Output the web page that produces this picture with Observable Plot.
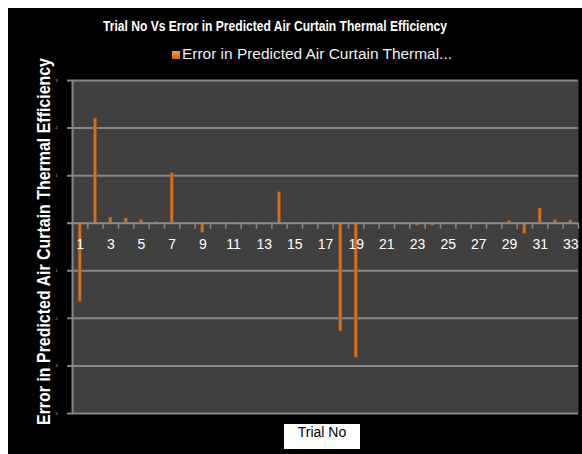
<!DOCTYPE html>
<html>
<head>
<meta charset="utf-8">
<script src="https://cdn.jsdelivr.net/npm/d3@7"></script>
<script src="https://cdn.jsdelivr.net/npm/@observablehq/plot@0.6"></script>
<style>
  html, body { margin: 0; padding: 0; background: #fff; }
  #page { position: relative; width: 582px; height: 454px; overflow: hidden; background: #fff; }
  #panel { position: absolute; left: 8px; top: 8px; width: 574px; height: 446px; background: #000; }
  .fit { position: absolute; white-space: nowrap; transform-origin: 0 0; }
  #title { left: 95px; top: 10px; color: #fff; font: bold 14.5px "Liberation Sans", sans-serif; }
  #legend { left: 164px; top: 38px; color: #f2f2f2; font: 14px "Liberation Sans", sans-serif; }
  #legend .sw { display: inline-block; width: 8px; height: 8px; margin-right: 2px; vertical-align: 0px;
                background: linear-gradient(#f3a347, #c8641a); }
  #ytitle { left: 26px; top: 417px; color: #fff; font: bold 18px "Liberation Sans", sans-serif; }
  #xtitle { position: absolute; left: 276px; top: 416px; width: 76px; height: 25px; background: #fff; color: #000;
            text-align: center; line-height: 26px; font: 14px "Liberation Sans", sans-serif; }
  #chart { position: absolute; left: 0; top: 58px; }
</style>
</head>
<body>
<div id="page">
  <div id="panel">
    <div id="title" class="fit">Trial No Vs Error in Predicted Air Curtain Thermal Efficiency</div>
    <div id="legend" class="fit"><span class="sw"></span><span id="legtext">Error in Predicted Air Curtain Thermal...</span></div>
    <div id="chart"></div>
    <div id="ytitle" class="fit">Error in Predicted Air Curtain Thermal Efficiency</div>
    <div id="xtitle">Trial No</div>
  </div>
</div>
<script>
const trials = d3.range(1, 34);
const errors = [-1.65, 2.2, 0.12, 0.1, 0.07, 0.02, 1.05, 0.01, -0.2, 0.0,
                -0.03, -0.03, -0.03, 0.65, 0.0, -0.03, -0.03, -2.27, -2.83, 0.0,
                0.0, -0.03, -0.05, -0.05, -0.02, -0.02, -0.02, -0.03, 0.05, -0.23,
                0.31, 0.07, 0.06];
const yTicks = [-4, -3, -2, -1, 0, 1, 2, 3];
const xLabels = trials.filter(t => t % 2 === 1);

const data = trials.map((t, i) => ({trial: t, error: errors[i]}));
const bounds = d3.range(1, 34).map(t => t + 0.5);

const chart = Plot.plot({
  width: 574,
  height: 388,
  marginLeft: 64,
  marginRight: 4,
  marginTop: 14,
  marginBottom: 41,
  style: {background: "#000", color: "#fff", fontFamily: "Liberation Sans, sans-serif"},
  x: {type: "linear", domain: [0.5, 33.5], axis: null},
  y: {domain: [-4, 3], axis: null},
  marks: [
    Plot.frame({fill: "#404040", stroke: null}),
    Plot.ruleY(yTicks.filter(d => d !== 0), {stroke: "#868686", strokeWidth: 2, insetLeft: -5}),
    Plot.ruleX([0.5], {stroke: "#868686", strokeWidth: 2}),
    Plot.text(yTicks.filter(d => d !== 0), {y: d => d, x: 0.5, text: d => String(Math.abs(d)), dx: -16, fontSize: 4, fill: "#bbb"}),
    Plot.rectY(data, {x1: d => d.trial - 0.1, x2: d => d.trial + 0.1, y: "error", fill: "#d2711e", stroke: "#9a4d12", strokeWidth: 0.5}),
    Plot.ruleY([0], {stroke: "#8c8c8c", strokeWidth: 2, insetLeft: -5}),
    Plot.ruleX(bounds, {y1: 0, y2: 0, insetBottom: -6, stroke: "#8c8c8c", strokeWidth: 1.5}),
    Plot.text(xLabels, {x: d => d, y: 0, text: d => String(d), dy: 21, fontSize: 14, fill: "#fff"})
  ]
});
document.getElementById("chart").appendChild(chart);

// fit text widths to the reference's spans
function fitX(el, target, extra) {
  const w = el.getBoundingClientRect().width;
  el.style.transform = (extra || "") + ` scaleX(${target / w})`;
}
fitX(document.getElementById("title"), 344);
const lt = document.getElementById("legtext");
lt.style.display = "inline-block";
lt.style.transformOrigin = "0 0";
lt.style.transform = `scaleX(${270 / lt.getBoundingClientRect().width})`;
const yt = document.getElementById("ytitle");
const yw = yt.getBoundingClientRect().width;
yt.style.transform = `rotate(-90deg) scaleX(${367 / yw})`;
</script>
</body>
</html>
